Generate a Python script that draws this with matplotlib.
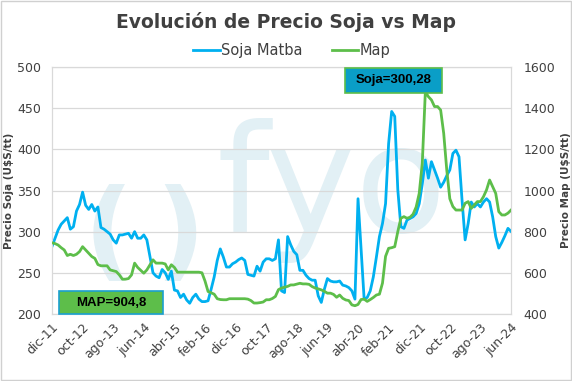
import matplotlib.pyplot as plt
from matplotlib.patches import Rectangle
import numpy as np

# monthly series, dic-11 .. jun-24
soja = [
    282, 292, 302, 309, 313, 317, 303, 306, 325, 333,
    348, 332, 327, 333, 325, 330, 305, 303, 300, 297,
    290, 286, 296, 296, 297, 298, 292, 300, 292, 292,
    296, 290, 270, 250, 246, 244, 254, 250, 242, 252,
    229, 228, 220, 224, 217, 213, 220, 224, 218, 215,
    215, 216, 230, 245, 265, 279, 269, 257, 257, 261,
    263, 266, 268, 265, 248, 247, 246, 258, 252, 263,
    267, 267, 265, 267, 290, 228, 226, 294, 284, 276,
    272, 253, 253, 247, 243, 241, 241, 222, 214, 230,
    243, 240, 239, 239, 240, 235, 234, 232, 228, 218,
    340, 280, 218, 220, 228, 245, 269, 294, 310, 334,
    407, 446, 440, 351, 306, 304, 314, 316, 318, 322,
    334, 358, 387, 365, 385, 375, 365, 354, 360, 368,
    375, 395, 399, 391, 338, 290, 310, 336, 330, 334,
    330, 336, 340, 336, 318, 294, 280, 287, 295, 304,
    300.28,
]

map_ = [
    746, 742, 735, 722, 711, 684, 690, 684, 690, 703,
    727, 711, 695, 679, 670, 640, 634, 634, 634, 614,
    610, 606, 590, 569, 569, 572, 590, 647, 626, 612,
    598, 614, 639, 663, 647, 647, 647, 643, 614, 639,
    626, 603, 603, 603, 603, 603, 603, 603, 603, 600,
    560, 509, 503, 496, 474, 470, 469, 469, 474, 474,
    474, 474, 474, 474, 472, 465, 453, 453, 455, 458,
    469, 469, 475, 485, 518, 526, 530, 534, 541, 541,
    545, 549, 546, 546, 544, 533, 526, 522, 517, 510,
    501, 501, 495, 481, 492, 476, 468, 465, 444, 440,
    446, 470, 472, 461, 470, 480, 492, 496, 550, 680,
    719, 722, 727, 800, 865, 873, 865, 870, 885, 920,
    986, 1132, 1480, 1456, 1440, 1408, 1408, 1391, 1278, 1100,
    960, 922, 905, 905, 905, 938, 946, 913, 930, 946,
    946, 970, 1003, 1051, 1019, 986, 897, 881, 881, 890,
    904.8,
]

tick_labels = ["dic-11", "oct-12", "ago-13", "jun-14", "abr-15", "feb-16",
               "dic-16", "oct-17", "ago-18", "jun-19", "abr-20", "feb-21",
               "dic-21", "oct-22", "ago-23", "jun-24"]

blue = "#00B0F0"
green = "#5DBE4A"
txt = "#404040"
wm = "#e2f0f5"

x = np.arange(len(soja))

fig = plt.figure(figsize=(5.72, 3.81), dpi=100)
ax = fig.add_axes([0.0909, 0.176, 0.8025, 0.648])
ax2 = ax.twinx()

# fyo watermark
ax.text(0.122, 0.31, "(", transform=ax.transAxes, fontsize=78, color=wm,
        ha="center", va="center", zorder=0, fontweight="bold")
ax.text(0.279, 0.31, ")", transform=ax.transAxes, fontsize=78, color=wm,
        ha="center", va="center", zorder=0, fontweight="bold")
ax.text(0.61, 0.33, "fyo", transform=ax.transAxes, fontsize=108, color=wm,
        ha="center", va="baseline", zorder=0)

ax.plot(x, soja, color=blue, lw=2.0, zorder=3, label="Soja Matba")
ax2.plot(x, map_, color=green, lw=2.0, zorder=3, label="Map")

ax.set_xlim(0, 150)
ax.set_ylim(200, 500)
ax.set_yticks(np.arange(200, 501, 50))
ax2.set_ylim(400, 1600)
ax2.set_yticks(np.arange(400, 1601, 200))
ax.set_xticks(np.arange(0, 151, 10))
ax.set_xticklabels(tick_labels, rotation=45, ha="right", rotation_mode="anchor")

ax.grid(axis="y", color="#d9d9d9", lw=0.9, zorder=1)
ax.set_axisbelow(True)
for a in (ax, ax2):
    a.tick_params(length=0, labelsize=9, labelcolor=txt)
    for s in a.spines.values():
        s.set_color("#d9d9d9")
ax.tick_params(axis="y", pad=8)
ax.tick_params(axis="x", pad=5)
ax2.tick_params(axis="y", pad=9)

ax.set_ylabel("Precio Soja (U$S/tt)", fontsize=7.5, fontweight="bold", color=txt, labelpad=2)
ax2.set_ylabel("Precio Map (U$S/tt)", fontsize=7.5, fontweight="bold", color=txt, labelpad=4)

fig.text(0.5, 0.942, "Evolución de Precio Soja vs Map", ha="center", va="center",
         fontsize=13.5, fontweight="bold", color=txt)

h1, l1 = ax.get_legend_handles_labels()
h2, l2 = ax2.get_legend_handles_labels()
fig.legend(h1 + h2, l1 + l2, loc="center", bbox_to_anchor=(0.51, 0.868), ncol=2,
           frameon=False, fontsize=10.5, handlelength=1.8, handletextpad=0.1,
           columnspacing=2.0, labelcolor=txt)

# value boxes
fig.add_artist(Rectangle((0.603, 0.756), 0.170, 0.066, transform=fig.transFigure,
                         facecolor="#0A9EC7", edgecolor=green, lw=1.2, zorder=5))
fig.text(0.688, 0.789, "Soja=300,28", ha="center", va="center", fontsize=9.5,
         fontweight="bold", family="Liberation Sans", color="black", zorder=6)
fig.add_artist(Rectangle((0.103, 0.176), 0.182, 0.060, transform=fig.transFigure,
                         facecolor=green, edgecolor="#1AA0D0", lw=1.2, zorder=5))
fig.text(0.194, 0.206, "MAP=904,8", ha="center", va="center", fontsize=9.5,
         fontweight="bold", family="Liberation Sans", color="black", zorder=6)

# chart border
fig.add_artist(Rectangle((0.002, 0.003), 0.996, 0.994, transform=fig.transFigure,
                         facecolor="none", edgecolor="#d0d0d0", lw=1.0))

fig.savefig("out.png", dpi=100)
